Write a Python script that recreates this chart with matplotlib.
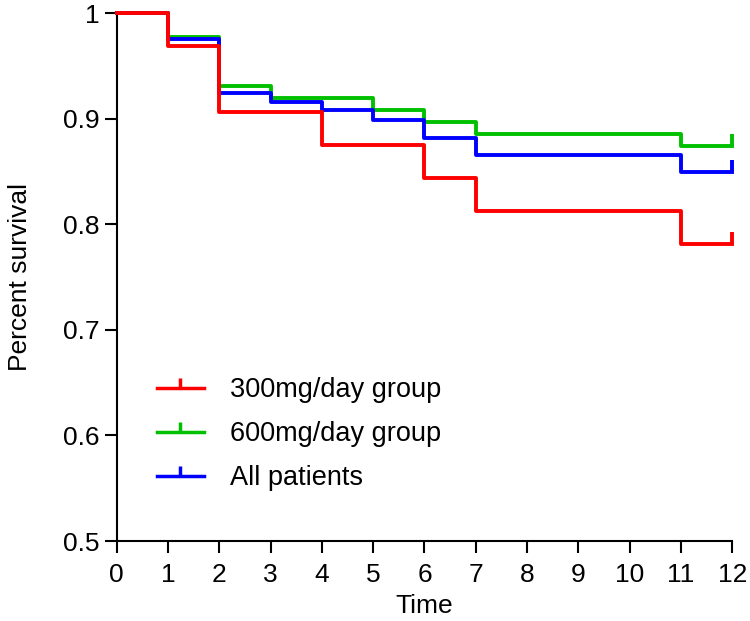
import matplotlib
matplotlib.use('Agg')
import matplotlib.pyplot as plt
from matplotlib.path import Path
from matplotlib.lines import Line2D

plt.rcParams['font.family'] = ['Liberation Sans', 'DejaVu Sans']

# survival data (step changes)
times = [0, 1, 2, 3, 4, 5, 6, 7, 11, 12]
surv_300 = [1.0, 0.969, 0.906, 0.906, 0.875, 0.875, 0.844, 0.8125, 0.781, 0.781]
surv_600 = [1.0, 0.977, 0.931, 0.920, 0.920, 0.908, 0.897, 0.885, 0.874, 0.874]
surv_all = [1.0, 0.975, 0.924, 0.916, 0.908, 0.899, 0.882, 0.866, 0.849, 0.849]
censor_time = 12

labels = ['300mg/day group', '600mg/day group', 'All patients']
colors = ['#ff0000', '#00c000', '#0000ff']
xticks = list(range(0, 13))
yticks = [0.5, 0.6, 0.7, 0.8, 0.9, 1.0]
ytick_labels = ['0.5', '0.6', '0.7', '0.8', '0.9', '1']

# censor mark: a tick going up from the point
censor = Path([(0, 0), (0, 1)], [Path.MOVETO, Path.LINETO])

fig = plt.figure(figsize=(7.5, 6.21), dpi=100)
ax = fig.add_axes([0.1556, 0.1288, 0.8208, 0.8502])

series = [surv_300, surv_600, surv_all]
# green, then blue, then red on top
for idx in [1, 2, 0]:
    s = series[idx]
    ax.step(times, s, where='post', color=colors[idx], lw=2.8, clip_on=False, zorder=3 + (idx == 0))
    ax.plot([censor_time], [s[-1]], marker=censor, markersize=17, mew=2.8,
            color=colors[idx], clip_on=False, zorder=3)

ax.set_xlim(0, 12)
ax.set_ylim(0.5, 1.0)
ax.set_xticks(xticks)
ax.set_yticks(yticks)
ax.set_yticklabels(ytick_labels)
ax.tick_params(labelsize=19, length=8.6, width=1.5, direction='out')
ax.tick_params(axis='x', pad=7.5)
ax.tick_params(axis='y', pad=4)
for sp in ['top', 'right']:
    ax.spines[sp].set_visible(False)
for sp in ['left', 'bottom']:
    ax.spines[sp].set_linewidth(1.5)

ax.set_xlabel('Time', fontsize=19, labelpad=5)
ax.set_ylabel('Percent survival', fontsize=19, labelpad=22)

handles = [Line2D([], [], color=c, lw=2.5, marker=censor, markersize=15, mew=2.5) for c in colors]
ax.legend(handles, labels, loc='upper left', bbox_to_anchor=(0.065, 0.31), frameon=False,
          fontsize=19.5, handlelength=1.75, handletextpad=0.95, labelspacing=0.66, numpoints=1,
          borderpad=0, borderaxespad=0)

fig.savefig('out.png', dpi=100)
